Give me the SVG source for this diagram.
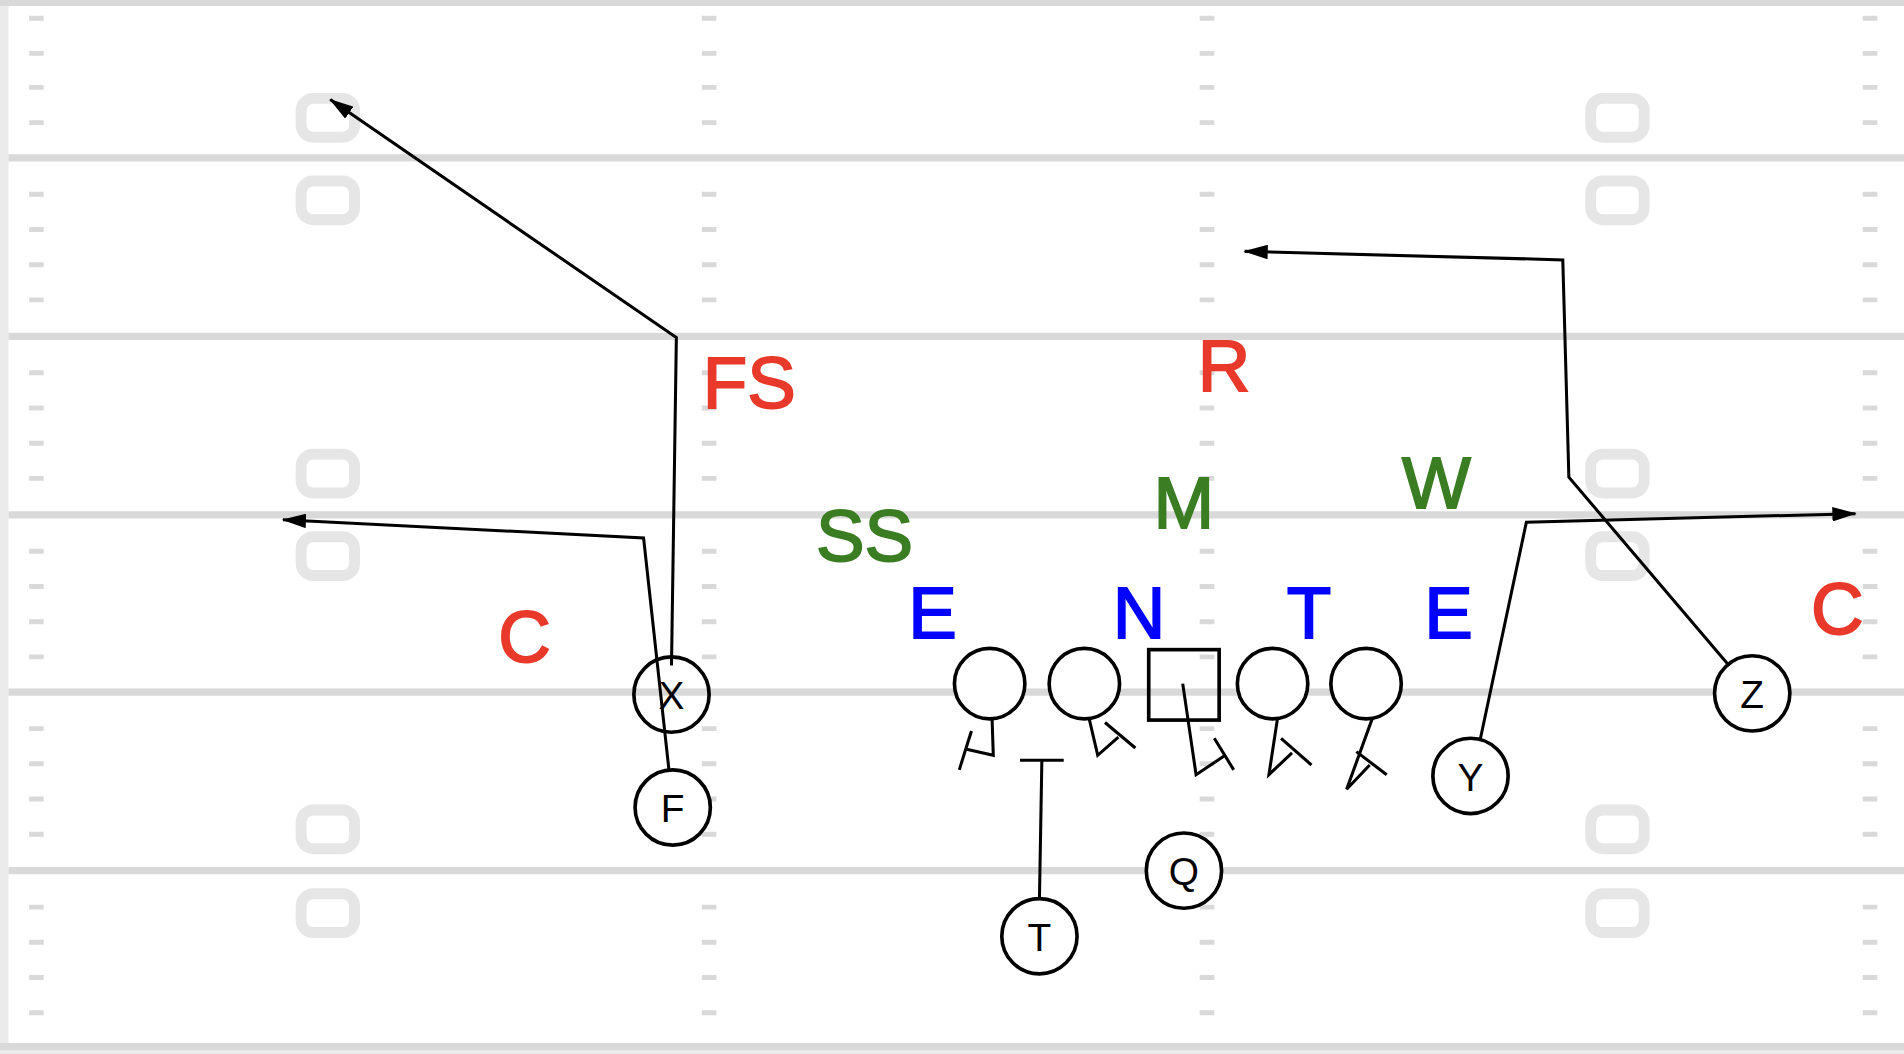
<svg xmlns="http://www.w3.org/2000/svg" width="1904" height="1054" viewBox="0 0 1904 1054">
<style>
.yl{stroke:#d9d9d9;stroke-width:6}
.hm{stroke:#d9d9d9;stroke-width:4}
.num{fill:none;stroke:#e6e6e6;stroke-width:9}
.pl{fill:#fff;stroke:#000;stroke-width:3}
.pt{font-family:"Liberation Sans",Arial,sans-serif;font-size:32px;text-anchor:middle;fill:#000}
.ln{fill:none;stroke:#000;stroke-width:2.5}
.lb{font-family:"Liberation Sans",Arial,sans-serif;font-size:60px;text-anchor:middle;stroke-width:1.5}
.r{fill:#e8392b;stroke:#e8392b}.g{fill:#3a7d22;stroke:#3a7d22}.b{fill:#0000ff;stroke:#0000ff}
</style>
<defs><marker id="ah" viewBox="0 0 20 12" refX="19" refY="6" markerWidth="20" markerHeight="12" markerUnits="userSpaceOnUse" orient="auto"><path d="M0,0L20,6L0,12z" fill="#000"/></marker></defs>
<rect width="1904" height="1054" fill="#ebebeb"/>
<g transform="scale(1.21429)">
<rect x="7" y="5" width="1561" height="856" fill="#fff"/>
<g id="field">
<line class="yl" x1="7" y1="130" x2="1568" y2="130"/><line class="yl" x1="7" y1="277" x2="1568" y2="277"/>
<line class="yl" x1="7" y1="424" x2="1568" y2="424"/><line class="yl" x1="7" y1="570" x2="1568" y2="570"/>
<line class="yl" x1="7" y1="717" x2="1568" y2="717"/><line class="yl" x1="0" y1="862" x2="1568" y2="862"/>
<line class="yl" x1="0" y1="2" x2="1568" y2="2"/>
<g id="hashes">
<path class="hm" d="M24,15h12M24,44h12M24,72h12M24,101h12M24,160h12M24,189h12M24,218h12M24,247h12M24,307h12M24,336h12M24,365h12M24,394h12M24,454h12M24,483h12M24,512h12M24,541h12M24,600h12M24,629h12M24,658h12M24,687h12M24,747h12M24,776h12M24,805h12M24,834h12"/>
<path class="hm" transform="translate(554,0)" d="M24,15h12M24,44h12M24,72h12M24,101h12M24,160h12M24,189h12M24,218h12M24,247h12M24,307h12M24,336h12M24,365h12M24,394h12M24,454h12M24,483h12M24,512h12M24,541h12M24,600h12M24,629h12M24,658h12M24,687h12M24,747h12M24,776h12M24,805h12M24,834h12"/>
<path class="hm" transform="translate(964,0)" d="M24,15h12M24,44h12M24,72h12M24,101h12M24,160h12M24,189h12M24,218h12M24,247h12M24,307h12M24,336h12M24,365h12M24,394h12M24,454h12M24,483h12M24,512h12M24,541h12M24,600h12M24,629h12M24,658h12M24,687h12M24,747h12M24,776h12M24,805h12M24,834h12"/>
<path class="hm" transform="translate(1510,0)" d="M24,15h12M24,44h12M24,72h12M24,101h12M24,160h12M24,189h12M24,218h12M24,247h12M24,307h12M24,336h12M24,365h12M24,394h12M24,454h12M24,483h12M24,512h12M24,541h12M24,600h12M24,629h12M24,658h12M24,687h12M24,747h12M24,776h12M24,805h12M24,834h12"/>
</g>
<g id="numbers">
<rect class="num" x="248" y="81" width="44" height="32" rx="10"/><rect class="num" x="248" y="149" width="44" height="32" rx="10"/>
<rect class="num" x="248" y="374" width="44" height="32" rx="10"/><rect class="num" x="248" y="442" width="44" height="32" rx="10"/>
<rect class="num" x="248" y="667" width="44" height="32" rx="10"/><rect class="num" x="248" y="736" width="44" height="32" rx="10"/>
<rect class="num" x="1310" y="81" width="44" height="32" rx="10"/><rect class="num" x="1310" y="149" width="44" height="32" rx="10"/>
<rect class="num" x="1310" y="374" width="44" height="32" rx="10"/><rect class="num" x="1310" y="442" width="44" height="32" rx="10"/>
<rect class="num" x="1310" y="667" width="44" height="32" rx="10"/><rect class="num" x="1310" y="736" width="44" height="32" rx="10"/>
</g>
</g>
<g id="defense">
<text class="lb r" x="617" y="336">FS</text><text class="lb r" x="1008" y="322">R</text>
<text class="lb g" x="975" y="435">M</text><text class="lb g" x="1183" y="418">W</text><text class="lb g" x="712" y="462">SS</text>
<text class="lb b" x="768" y="525">E</text><text class="lb b" x="938" y="525">N</text><text class="lb b" x="1078" y="525">T</text><text class="lb b" x="1193" y="525">E</text>
<text class="lb r" x="432" y="545">C</text><text class="lb r" x="1513" y="522">C</text>
</g>
<g id="connectors">
<polyline class="ln" points="553,548 557,278 272,82" marker-end="url(#ah)"/>
<polyline class="ln" points="551,635 530,443 233,428" marker-end="url(#ah)"/>
<polyline class="ln" points="1423,547 1292,393 1287,214 1025,207" marker-end="url(#ah)"/>
<polyline class="ln" points="1219,609 1257,430 1528,423" marker-end="url(#ah)"/>
<polyline class="ln" points="856,741 858,626"/><line class="ln" x1="840" y1="626" x2="876" y2="626"/>
<polyline class="ln" points="817,592 818,622 796,617"/><line class="ln" x1="800" y1="602" x2="790" y2="634"/>
<polyline class="ln" points="897,592 904,622 921,607"/><line class="ln" x1="910" y1="595" x2="935" y2="616"/>
<polyline class="ln" points="974,563 985,638 1009,622"/><line class="ln" x1="1000" y1="608" x2="1016" y2="634"/>
<polyline class="ln" points="1052,592 1045,638 1064,620"/><line class="ln" x1="1055" y1="608" x2="1080" y2="630"/>
<polyline class="ln" points="1130,592 1109,650 1128,630"/><line class="ln" x1="1117" y1="619" x2="1142" y2="638"/>
</g>
<g id="line">
<circle class="pl" cx="815" cy="563" r="29"/><circle class="pl" cx="893" cy="563" r="29"/>
<rect class="pl" x="946" y="535" width="58" height="58" style="fill:none"/>
<circle class="pl" cx="1048" cy="563" r="29"/><circle class="pl" cx="1125" cy="563" r="29"/>
</g>
<g id="X"><circle class="pl" cx="553" cy="572" r="31" style="fill:none"/><text class="pt" x="553" y="584">X</text></g>
<g id="F"><circle class="pl" cx="554" cy="665" r="31"/><text class="pt" x="554" y="677">F</text></g>
<g id="T"><circle class="pl" cx="856" cy="771" r="31"/><text class="pt" x="856" y="783">T</text></g>
<g id="Q"><circle class="pl" cx="975" cy="717" r="31"/><text class="pt" x="975" y="729">Q</text></g>
<g id="Y"><circle class="pl" cx="1211" cy="639" r="31"/><text class="pt" x="1211" y="651">Y</text></g>
<g id="Z"><circle class="pl" cx="1443" cy="571" r="31"/><text class="pt" x="1443" y="583">Z</text></g>
</g>
</svg>
